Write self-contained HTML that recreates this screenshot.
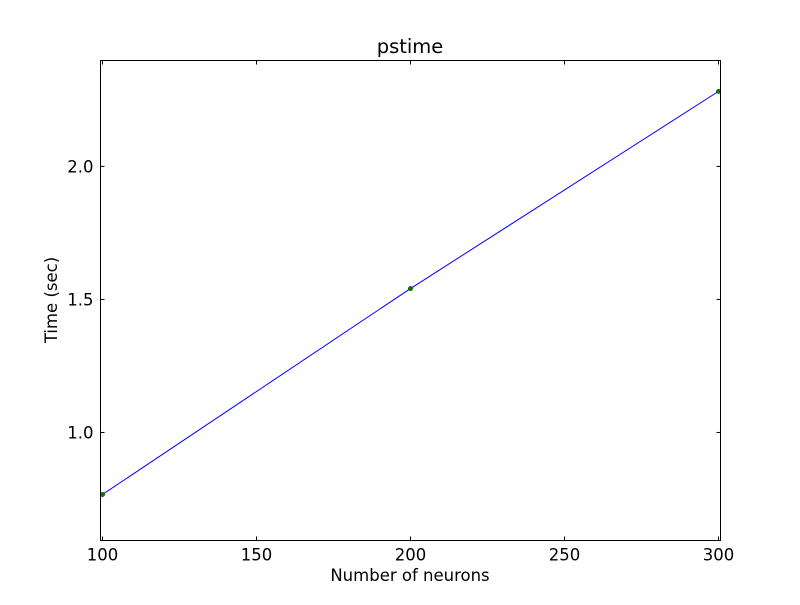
<!DOCTYPE html>
<html><head><meta charset="utf-8"><style>
body{margin:0;background:#fff;}
svg text{font-family:"DejaVu Sans","Liberation Sans",sans-serif;}
</style></head><body>
<svg id="chart" width="800" height="600" xmlns="http://www.w3.org/2000/svg">
<rect width="800" height="600" fill="#fff"/>
<g id="plot"></g>
</svg>
<script>
const xValues=[100,200,300];
const yValues=[0.767,1.541,2.282];
const xTicks=[100,150,200,250,300];
const yTicks=[1.0,1.5,2.0];
const yTickLabels=["1.0","1.5","2.0"];
const L=100.5,R=720.5,T=60.5,B=540.5;
const xMin=99.35,xMax=300.65,yMin=0.594,yMax=2.398;
const sx=v=>L+(v-xMin)/(xMax-xMin)*(R-L);
const sy=v=>B-(v-yMin)/(yMax-yMin)*(B-T);
const NS="http://www.w3.org/2000/svg";
const g=document.getElementById('plot');
function mk(t,a,txt){const e=document.createElementNS(NS,t);for(const k in a)e.setAttribute(k,a[k]);if(txt!==undefined)e.textContent=txt;g.appendChild(e);return e;}
let d=xValues.map((x,i)=>(i?'L':'M')+sx(x)+','+sy(yValues[i])).join(' ');
const ln=mk('path',{d:d,fill:'none',stroke:'#0000ff','stroke-width':1});


xValues.forEach((x,i)=>{
 const c=mk('circle',{cx:sx(x),cy:sy(yValues[i]),r:2.2,fill:'#008000',stroke:'#004000','stroke-width':0.5});
 
 
});
const fr=mk('rect',{x:L,y:T,width:R-L,height:B-T,fill:'none',stroke:'#000','stroke-width':1});


xTicks.forEach(v=>{
 const x=sx(v);
 mk('line',{x1:x,x2:x,y1:B,y2:B-4,stroke:'#000'});
 mk('line',{x1:x,x2:x,y1:T,y2:T+4,stroke:'#000'});
 const t=mk('text',{x:x,y:B+20,'text-anchor':'middle','font-size':16.5},String(v));
 
 
});
yTicks.forEach((v,i)=>{
 const y=sy(v);
 mk('line',{x1:L,x2:L+4,y1:y,y2:y,stroke:'#000'});
 mk('line',{x1:R,x2:R-4,y1:y,y2:y,stroke:'#000'});
 const t=mk('text',{x:L-7,y:y+6,'text-anchor':'end','font-size':16.5},yTickLabels[i]);
 
 
});
const ti=mk('text',{x:410,y:53,'text-anchor':'middle','font-size':19.5},'pstime');


const xl=mk('text',{x:410,y:581,'text-anchor':'middle','font-size':16.5},'Number of neurons');


const yl=mk('text',{x:57,y:300,'text-anchor':'middle','font-size':16.5,transform:'rotate(-90 57 300)'},'Time (sec)');


</script>
</body></html>
